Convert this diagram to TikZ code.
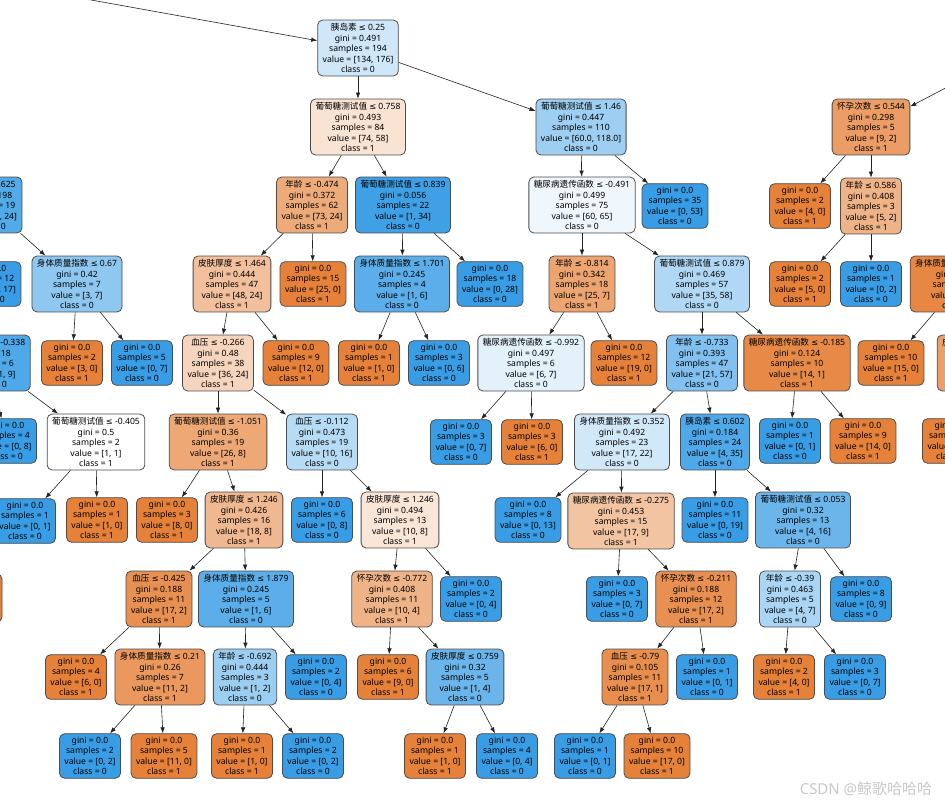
\documentclass[tikz,border=0pt]{standalone}
\usepackage{fontspec}
\setmainfont{Noto Sans}
\newfontfamily\cjk{Noto Sans CJK SC}
\newfontfamily\dejavu{DejaVu Sans}
\newcommand{\leqsign}{{\dejavu\fontsize{8.2}{10.5}\selectfont ≤}}
\usetikzlibrary{arrows.meta}
\definecolor{treeorange}{RGB}{229,129,57}
\definecolor{treeblue}{RGB}{57,157,229}
\definecolor{edgegray}{RGB}{35,35,35}
\definecolor{markgray}{RGB}{200,200,200}

\begin{document}
\begin{tikzpicture}[x=1pt,y=-1pt,>={Latex[length=6pt,width=4.5pt]}]
\tikzset{
  treenode/.style={draw=black!70,line width=0.8pt,rounded corners=5pt,align=center,
               inner xsep=5pt,inner ysep=3.3pt,font=\fontsize{8.6}{10.5}\selectfont},
  oleaf/.style={treenode,fill=treeorange},
  bleaf/.style={treenode,fill=treeblue},
  treeedge/.style={->,draw=edgegray,line width=0.6pt}
}
\useasboundingbox (0,0) rectangle (945,805);
\clip (0,0) rectangle (945,805);
\coordinate (topleft) at (-20,-20);
\coordinate (topright) at (980,70);
% rows 1-2
\node[treenode,fill=treeblue!24!white] (ins025) at (358,48) {{\cjk 胰岛素} \leqsign{} 0.25\\gini = 0.491\\samples = 194\\value = [134, 176]\\class = 0};
\node[treenode,fill=treeorange!22!white] (glu0758) at (358,127) {{\cjk 葡萄糖测试值} \leqsign{} 0.758\\gini = 0.493\\samples = 84\\value = [74, 58]\\class = 1};
\node[treenode,fill=treeblue!49!white] (glu146) at (581,127) {{\cjk 葡萄糖测试值} \leqsign{} 1.46\\gini = 0.447\\samples = 110\\value = [60.0, 118.0]\\class = 0};
\node[treenode,fill=treeorange!78!white] (preg0544) at (871,127) {{\cjk 怀孕次数} \leqsign{} 0.544\\gini = 0.298\\samples = 5\\value = [9, 2]\\class = 1};
% row 3
\node[treenode,fill=treeblue!87!white] (age0625) at (-11,205) {{\cjk 年龄} \leqsign{} -0.625\\gini = 0.198\\samples = 19\\value = [3, 24]\\class = 0};
\node[treenode,fill=treeorange!67!white] (age0474) at (312,205) {{\cjk 年龄} \leqsign{} -0.474\\gini = 0.372\\samples = 62\\value = [73, 24]\\class = 1};
\node[treenode,fill=treeblue!97!white] (glu0839) at (403,205) {{\cjk 葡萄糖测试值} \leqsign{} 0.839\\gini = 0.056\\samples = 22\\value = [1, 34]\\class = 0};
\node[treenode,fill=treeblue!8!white] (ped0491) at (582,205) {{\cjk 糖尿病遗传函数} \leqsign{} -0.491\\gini = 0.499\\samples = 75\\value = [60, 65]\\class = 0};
\node[bleaf] (glu146R) at (675,206) {gini = 0.0\\samples = 35\\value = [0, 53]\\class = 0};
\node[oleaf] (preg0544L) at (800,206) {gini = 0.0\\samples = 2\\value = [4, 0]\\class = 1};
\node[treenode,fill=treeorange!60!white] (age0586) at (871,206) {{\cjk 年龄} \leqsign{} 0.586\\gini = 0.408\\samples = 3\\value = [5, 2]\\class = 1};
% row 4
\node[bleaf] (age0625L) at (-12,284) {gini = 0.0\\samples = 12\\value = [0, 17]\\class = 0};
\node[treenode,fill=treeblue!57!white] (bmi067) at (77,284) {{\cjk 身体质量指数} \leqsign{} 0.67\\gini = 0.42\\samples = 7\\value = [3, 7]\\class = 0};
\node[treenode,fill=treeorange!50!white] (skin1464) at (232,284) {{\cjk 皮肤厚度} \leqsign{} 1.464\\gini = 0.444\\samples = 47\\value = [48, 24]\\class = 1};
\node[oleaf] (age0474R) at (313,284) {gini = 0.0\\samples = 15\\value = [25, 0]\\class = 1};
\node[treenode,fill=treeblue!83!white] (bmi1701) at (402,284) {{\cjk 身体质量指数} \leqsign{} 1.701\\gini = 0.245\\samples = 4\\value = [1, 6]\\class = 0};
\node[bleaf] (glu0839R) at (490,284) {gini = 0.0\\samples = 18\\value = [0, 28]\\class = 0};
\node[treenode,fill=treeorange!72!white] (age0814) at (582,284) {{\cjk 年龄} \leqsign{} -0.814\\gini = 0.342\\samples = 18\\value = [25, 7]\\class = 1};
\node[treenode,fill=treeblue!40!white] (glu0879) at (702,284) {{\cjk 葡萄糖测试值} \leqsign{} 0.879\\gini = 0.469\\samples = 57\\value = [35, 58]\\class = 0};
\node[oleaf] (age0586L) at (800,284) {gini = 0.0\\samples = 2\\value = [5, 0]\\class = 1};
\node[bleaf] (age0586R) at (871,284) {gini = 0.0\\samples = 1\\value = [0, 2]\\class = 0};
\node[treenode,fill=treeorange!95!white] (bmix) at (959,284) {{\cjk 身体质量指数} \leqsign{} -0.123\\gini = 0.095\\samples = 12\\value = [19, 1]\\class = 1};
% row 5
\node[treenode,fill=treeblue!89!white] (skin0338) at (-10,363) {{\cjk 皮肤厚度} \leqsign{} -0.338\\gini = 0.18\\samples = 6\\value = [1, 9]\\class = 0};
\node[oleaf] (bmi067L) at (72,363) {gini = 0.0\\samples = 2\\value = [3, 0]\\class = 1};
\node[bleaf] (bmi067R) at (142,363) {gini = 0.0\\samples = 5\\value = [0, 7]\\class = 0};
\node[treenode,fill=treeorange!33!white] (bp0266) at (218,363) {{\cjk 血压} \leqsign{} -0.266\\gini = 0.48\\samples = 38\\value = [36, 24]\\class = 1};
\node[oleaf] (skin1464R) at (296,363) {gini = 0.0\\samples = 9\\value = [12, 0]\\class = 1};
\node[oleaf] (bmi1701L) at (369,363) {gini = 0.0\\samples = 1\\value = [1, 0]\\class = 1};
\node[bleaf] (bmi1701R) at (439,363) {gini = 0.0\\samples = 3\\value = [0, 6]\\class = 0};
\node[treenode,fill=treeblue!14!white] (ped0992) at (531,363) {{\cjk 糖尿病遗传函数} \leqsign{} -0.992\\gini = 0.497\\samples = 6\\value = [6, 7]\\class = 0};
\node[oleaf] (age0814R) at (624,363) {gini = 0.0\\samples = 12\\value = [19, 0]\\class = 1};
\node[treenode,fill=treeblue!63!white] (age0733) at (702,363) {{\cjk 年龄} \leqsign{} -0.733\\gini = 0.393\\samples = 47\\value = [21, 57]\\class = 0};
\node[treenode,fill=treeorange!93!white] (ped0185) at (797,363) {{\cjk 糖尿病遗传函数} \leqsign{} -0.185\\gini = 0.124\\samples = 10\\value = [14, 1]\\class = 1};
\node[oleaf] (bmixL) at (891,363) {gini = 0.0\\samples = 10\\value = [15, 0]\\class = 1};
\node[treenode,fill=treeorange!75!white] (skinx) at (975,363) {{\cjk 皮肤厚度} \leqsign{} -0.36\\gini = 0.375\\samples = 4\\value = [6, 2]\\class = 1};
% row 6
\node[bleaf] (skin0338L) at (6,441) {gini = 0.0\\samples = 4\\value = [0, 8]\\class = 0};
\node[treenode,fill=white] (glu0405) at (96,442) {{\cjk 葡萄糖测试值} \leqsign{} -0.405\\gini = 0.5\\samples = 2\\value = [1, 1]\\class = 1};
\node[treenode,fill=treeorange!69!white] (glu1051) at (218,442) {{\cjk 葡萄糖测试值} \leqsign{} -1.051\\gini = 0.36\\samples = 19\\value = [26, 8]\\class = 1};
\node[treenode,fill=treeblue!37!white] (bp0112) at (322,442) {{\cjk 血压} \leqsign{} -0.112\\gini = 0.473\\samples = 19\\value = [10, 16]\\class = 0};
\node[bleaf] (ped0992L) at (461,442) {gini = 0.0\\samples = 3\\value = [0, 7]\\class = 0};
\node[oleaf] (ped0992R) at (532,442) {gini = 0.0\\samples = 3\\value = [6, 0]\\class = 1};
\node[treenode,fill=treeblue!23!white] (bmi0352) at (622,442) {{\cjk 身体质量指数} \leqsign{} 0.352\\gini = 0.492\\samples = 23\\value = [17, 22]\\class = 0};
\node[treenode,fill=treeblue!89!white] (ins0602) at (715,442) {{\cjk 胰岛素} \leqsign{} 0.602\\gini = 0.184\\samples = 24\\value = [4, 35]\\class = 0};
\node[bleaf] (ped0185L) at (790,441) {gini = 0.0\\samples = 1\\value = [0, 1]\\class = 0};
\node[oleaf] (ped0185R) at (863,441) {gini = 0.0\\samples = 9\\value = [14, 0]\\class = 1};
\node[oleaf] (skinxL) at (953,441) {gini = 0.0\\samples = 3\\value = [6, 0]\\class = 1};
% row 7
\node[bleaf] (glu0405L) at (25,521) {gini = 0.0\\samples = 1\\value = [0, 1]\\class = 0};
\node[oleaf] (glu0405R) at (97,520) {gini = 0.0\\samples = 1\\value = [1, 0]\\class = 1};
\node[oleaf] (glu1051L) at (167,520) {gini = 0.0\\samples = 3\\value = [8, 0]\\class = 1};
\node[treenode,fill=treeorange!56!white] (skin1246a) at (244,520) {{\cjk 皮肤厚度} \leqsign{} 1.246\\gini = 0.426\\samples = 16\\value = [18, 8]\\class = 1};
\node[bleaf] (bp0112L) at (322,520) {gini = 0.0\\samples = 6\\value = [0, 8]\\class = 0};
\node[treenode,fill=treeorange!20!white] (skin1246b) at (400,520) {{\cjk 皮肤厚度} \leqsign{} 1.246\\gini = 0.494\\samples = 13\\value = [10, 8]\\class = 1};
\node[bleaf] (bmi0352L) at (528,520) {gini = 0.0\\samples = 8\\value = [0, 13]\\class = 0};
\node[treenode,fill=treeorange!47!white] (ped0275) at (621,521) {{\cjk 糖尿病遗传函数} \leqsign{} -0.275\\gini = 0.453\\samples = 15\\value = [17, 9]\\class = 1};
\node[bleaf] (ins0602L) at (715,520) {gini = 0.0\\samples = 11\\value = [0, 19]\\class = 0};
\node[treenode,fill=treeblue!75!white] (glu0053) at (803,520) {{\cjk 葡萄糖测试值} \leqsign{} 0.053\\gini = 0.32\\samples = 13\\value = [4, 16]\\class = 0};
% row 8
\node[oleaf,minimum width=60pt,minimum height=48pt] (edgeleaf) at (-28,598) {};
\node[treenode,fill=treeorange!88!white] (bp0425) at (159,599) {{\cjk 血压} \leqsign{} -0.425\\gini = 0.188\\samples = 11\\value = [17, 2]\\class = 1};
\node[treenode,fill=treeblue!83!white] (bmi1879) at (246,599) {{\cjk 身体质量指数} \leqsign{} 1.879\\gini = 0.245\\samples = 5\\value = [1, 6]\\class = 0};
\node[treenode,fill=treeorange!60!white] (preg0772) at (392,599) {{\cjk 怀孕次数} \leqsign{} -0.772\\gini = 0.408\\samples = 11\\value = [10, 4]\\class = 1};
\node[bleaf] (skin1246bR) at (471,599) {gini = 0.0\\samples = 2\\value = [0, 4]\\class = 0};
\node[bleaf] (ped0275L) at (617,599) {gini = 0.0\\samples = 3\\value = [0, 7]\\class = 0};
\node[treenode,fill=treeorange!88!white] (preg0211) at (696,599) {{\cjk 怀孕次数} \leqsign{} -0.211\\gini = 0.188\\samples = 12\\value = [17, 2]\\class = 1};
\node[treenode,fill=treeblue!43!white] (age039) at (790,599) {{\cjk 年龄} \leqsign{} -0.39\\gini = 0.463\\samples = 5\\value = [4, 7]\\class = 0};
\node[bleaf] (glu0053R) at (861,599) {gini = 0.0\\samples = 8\\value = [0, 9]\\class = 0};
% row 9
\node[oleaf] (bp0425L) at (76,677) {gini = 0.0\\samples = 4\\value = [6, 0]\\class = 1};
\node[treenode,fill=treeorange!82!white] (bmi021) at (160,677) {{\cjk 身体质量指数} \leqsign{} 0.21\\gini = 0.26\\samples = 7\\value = [11, 2]\\class = 1};
\node[treenode,fill=treeblue!50!white] (age0692) at (245,677) {{\cjk 年龄} \leqsign{} -0.692\\gini = 0.444\\samples = 3\\value = [1, 2]\\class = 0};
\node[bleaf] (bmi1879R) at (316,677) {gini = 0.0\\samples = 2\\value = [0, 4]\\class = 0};
\node[oleaf] (preg0772L) at (388,677) {gini = 0.0\\samples = 6\\value = [9, 0]\\class = 1};
\node[treenode,fill=treeblue!75!white] (skin0759) at (465,677) {{\cjk 皮肤厚度} \leqsign{} 0.759\\gini = 0.32\\samples = 5\\value = [1, 4]\\class = 0};
\node[treenode,fill=treeorange!89!white] (bp079) at (635,677) {{\cjk 血压} \leqsign{} -0.79\\gini = 0.105\\samples = 11\\value = [17, 1]\\class = 1};
\node[bleaf] (preg0211R) at (707,677) {gini = 0.0\\samples = 1\\value = [0, 1]\\class = 0};
\node[oleaf] (age039L) at (784,677) {gini = 0.0\\samples = 2\\value = [4, 0]\\class = 1};
\node[bleaf] (age039R) at (855,677) {gini = 0.0\\samples = 3\\value = [0, 7]\\class = 0};
% row 10
\node[bleaf] (bmi021L) at (90,756) {gini = 0.0\\samples = 2\\value = [0, 2]\\class = 0};
\node[oleaf] (bmi021R) at (164,756) {gini = 0.0\\samples = 5\\value = [11, 0]\\class = 1};
\node[oleaf] (age0692L) at (242,756) {gini = 0.0\\samples = 1\\value = [1, 0]\\class = 1};
\node[bleaf] (age0692R) at (313,756) {gini = 0.0\\samples = 2\\value = [0, 2]\\class = 0};
\node[oleaf] (skin0759L) at (435,756) {gini = 0.0\\samples = 1\\value = [1, 0]\\class = 1};
\node[bleaf] (skin0759R) at (507,756) {gini = 0.0\\samples = 4\\value = [0, 4]\\class = 0};
\node[bleaf] (bp079L) at (585,756) {gini = 0.0\\samples = 1\\value = [0, 1]\\class = 0};
\node[oleaf] (bp079R) at (657,756) {gini = 0.0\\samples = 10\\value = [17, 0]\\class = 1};
\node[text=markgray,font=\fontsize{15}{15}\selectfont] (mark) at (866,789) {CSDN @{\cjk 鲸歌哈哈哈}};
% edges
\draw[treeedge] (topleft) -- (ins025);
\draw[treeedge] (topright) -- (preg0544);
\draw[treeedge] (ins025) -- (glu0758);
\draw[treeedge] (ins025) -- (glu146);
\draw[treeedge] (glu0758) -- (age0474);
\draw[treeedge] (glu0758) -- (glu0839);
\draw[treeedge] (glu146) -- (ped0491);
\draw[treeedge] (glu146) -- (glu146R);
\draw[treeedge] (preg0544) -- (preg0544L);
\draw[treeedge] (preg0544) -- (age0586);
\draw[treeedge] (age0586) -- (age0586L);
\draw[treeedge] (age0586) -- (age0586R);
\draw[treeedge] (age0625) -- (age0625L);
\draw[treeedge] (age0625) -- (bmi067);
\draw[treeedge] (bmi067) -- (bmi067L);
\draw[treeedge] (bmi067) -- (bmi067R);
\draw[treeedge] (age0474) -- (skin1464);
\draw[treeedge] (age0474) -- (age0474R);
\draw[treeedge] (glu0839) -- (bmi1701);
\draw[treeedge] (glu0839) -- (glu0839R);
\draw[treeedge] (bmi1701) -- (bmi1701L);
\draw[treeedge] (bmi1701) -- (bmi1701R);
\draw[treeedge] (ped0491) -- (age0814);
\draw[treeedge] (ped0491) -- (glu0879);
\draw[treeedge] (age0814) -- (ped0992);
\draw[treeedge] (age0814) -- (age0814R);
\draw[treeedge] (glu0879) -- (age0733);
\draw[treeedge] (glu0879) -- (ped0185);
\draw[treeedge] (bmix) -- (bmixL);
\draw[treeedge] (bmix) -- (skinx);
\draw[treeedge] (skinx) -- (skinxL);
\draw[treeedge] (skin0338) -- (skin0338L);
\draw[treeedge] (skin0338) -- (glu0405);
\draw[treeedge] (glu0405) -- (glu0405L);
\draw[treeedge] (glu0405) -- (glu0405R);
\draw[treeedge] (skin1464) -- (bp0266);
\draw[treeedge] (skin1464) -- (skin1464R);
\draw[treeedge] (bp0266) -- (glu1051);
\draw[treeedge] (bp0266) -- (bp0112);
\draw[treeedge] (glu1051) -- (glu1051L);
\draw[treeedge] (glu1051) -- (skin1246a);
\draw[treeedge] (bp0112) -- (bp0112L);
\draw[treeedge] (bp0112) -- (skin1246b);
\draw[treeedge] (ped0992) -- (ped0992L);
\draw[treeedge] (ped0992) -- (ped0992R);
\draw[treeedge] (age0733) -- (bmi0352);
\draw[treeedge] (age0733) -- (ins0602);
\draw[treeedge] (ped0185) -- (ped0185L);
\draw[treeedge] (ped0185) -- (ped0185R);
\draw[treeedge] (bmi0352) -- (bmi0352L);
\draw[treeedge] (bmi0352) -- (ped0275);
\draw[treeedge] (ins0602) -- (ins0602L);
\draw[treeedge] (ins0602) -- (glu0053);
\draw[treeedge] (skin1246a) -- (bp0425);
\draw[treeedge] (skin1246a) -- (bmi1879);
\draw[treeedge] (skin1246b) -- (preg0772);
\draw[treeedge] (skin1246b) -- (skin1246bR);
\draw[treeedge] (ped0275) -- (ped0275L);
\draw[treeedge] (ped0275) -- (preg0211);
\draw[treeedge] (glu0053) -- (age039);
\draw[treeedge] (glu0053) -- (glu0053R);
\draw[treeedge] (bp0425) -- (bp0425L);
\draw[treeedge] (bp0425) -- (bmi021);
\draw[treeedge] (bmi1879) -- (age0692);
\draw[treeedge] (bmi1879) -- (bmi1879R);
\draw[treeedge] (preg0772) -- (preg0772L);
\draw[treeedge] (preg0772) -- (skin0759);
\draw[treeedge] (preg0211) -- (bp079);
\draw[treeedge] (preg0211) -- (preg0211R);
\draw[treeedge] (age039) -- (age039L);
\draw[treeedge] (age039) -- (age039R);
\draw[treeedge] (bmi021) -- (bmi021L);
\draw[treeedge] (bmi021) -- (bmi021R);
\draw[treeedge] (age0692) -- (age0692L);
\draw[treeedge] (age0692) -- (age0692R);
\draw[treeedge] (skin0759) -- (skin0759L);
\draw[treeedge] (skin0759) -- (skin0759R);
\draw[treeedge] (bp079) -- (bp079L);
\draw[treeedge] (bp079) -- (bp079R);
\end{tikzpicture}
\end{document}
